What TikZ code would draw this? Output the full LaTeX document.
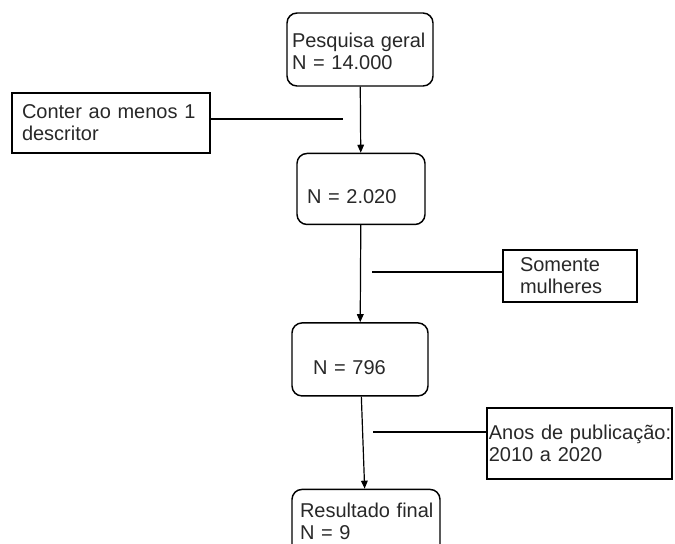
\documentclass[tikz,border=0pt]{standalone}
\usepackage{fontspec}
\setmainfont{Liberation Sans}
\usetikzlibrary{positioning,arrows.meta}
\definecolor{inkgray}{RGB}{40,40,40}

\begin{document}
\begin{tikzpicture}[x=0.75pt,y=-0.75pt,every node/.style={font=\fontsize{15}{16.5}\selectfont,text=inkgray},box/.style={draw,line width=1.1pt,rounded corners=7.5pt,align=left,inner ysep=0pt,minimum height=54.75pt},note/.style={draw,line width=1pt,align=left,inner ysep=0pt},flow/.style={-{Triangle[length=6pt,width=5pt]},line width=0.9pt},link/.style={line width=0.9pt}]
        \clip (0,0) rectangle (675,543);
        \node[box,text width=102pt,inner xsep=3.75pt,text height=26pt,text depth=28.75pt] (all) at (360,49.5) {\mbox{Pesquisa geral}\\N = 14.000};
        \node[box,text width=81pt,inner xsep=7.5pt,minimum height=53.25pt,text height=37.5pt,text depth=15.75pt,below=49.5pt of all,xshift=0.75pt] (desc) {N = 2.020};
        \node[box,text width=70.5pt,inner xsep=15.75pt,text height=39pt,text depth=15.75pt,below=72.75pt of desc,xshift=-0.75pt] (fem) {N = 796};
        \node[box,text width=99pt,inner xsep=6pt,text height=18pt,text depth=30.75pt,below=69pt of fem,xshift=4.5pt] (final) {\mbox{Resultado final}\\N = 9};
        % criterios de filtragem
        \node[note,text width=133.5pt,inner xsep=7.5pt,minimum height=45pt] (crit1) at (111,123) {Conter ao menos 1\\descritor};
        \node[note,text width=75pt,inner xsep=12.75pt,minimum height=39pt] (crit2) at (570,276) {Somente\\mulheres};
        \node[note,text width=136pt,inner xsep=1.4pt,minimum height=53.25pt] (crit3) at (579.5,443.5) {\mbox{Anos de publicação:}\\2010 a 2020};
        \coordinate (c1) at (343,119);
        \coordinate (c2) at (372,272);
        \coordinate (c3) at (373,432);
        \draw[flow] (all)--(desc);
        \draw[flow] (desc)--(fem);
        \draw[flow] (fem)--(final);
        \draw[link] (crit1.east |- c1)--(c1);
        \draw[link] (c2)--(c2 -| crit2.west);
        \draw[link] (c3)--(c3 -| crit3.west);
      \end{tikzpicture}
\end{document}
